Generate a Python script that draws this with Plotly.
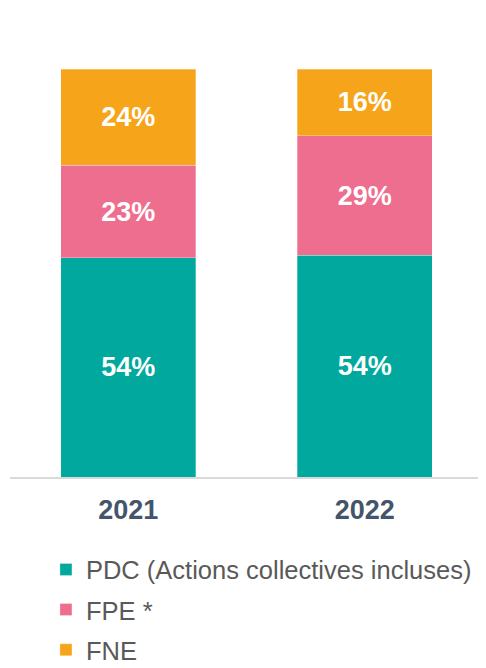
import plotly.graph_objects as go

years = ["2021", "2022"]
series_names = ["PDC (Actions collectives incluses)", "FPE *", "FNE"]
pdc = [53.7, 54.3]
fpe = [22.7, 29.3]
fne = [23.6, 16.4]
colors = ["#00A89D", "#EE6E8F", "#F6A51A"]

fig = go.Figure()
for name, vals, col in zip(series_names, [pdc, fpe, fne], colors):
    fig.add_trace(go.Bar(
        x=years, y=vals, name=name, legendgroup=name,
        marker=dict(color=col, line=dict(color="rgba(255,255,255,0.6)", width=0.5)),
        texttemplate="%{y:.0f}%", textposition="inside", insidetextanchor="middle",
        textfont=dict(family="Liberation Sans, Arial, sans-serif", size=27, color="white", weight="bold"),
        constraintext="none", hoverinfo="skip",
    ))

fig.update_layout(
    barmode="stack",
    bargap=0.43,
    width=478, height=660,
    margin=dict(l=2, r=3, t=61, b=191, autoexpand=False),
    paper_bgcolor="white", plot_bgcolor="white",
    font=dict(family="Liberation Sans, Arial, sans-serif"),
    uniformtext=dict(mode=False),
    xaxis=dict(
        showline=True, linecolor="#D9D9D9", linewidth=1.5,
        ticks="", showgrid=False,
        tickfont=dict(size=27, color="#44546A", weight="bold"),
        ticklabelstandoff=8,
    ),
    yaxis=dict(range=[0, 100], visible=False),
    legend=dict(
        orientation="v", traceorder="grouped", tracegroupgap=4,
        x=0.076, xanchor="left", y=-0.170, yanchor="top",
        font=dict(size=25.5, color="#595959"),
        itemclick=False,
    ),
    showlegend=True,
)

fig.write_html("out.html")
